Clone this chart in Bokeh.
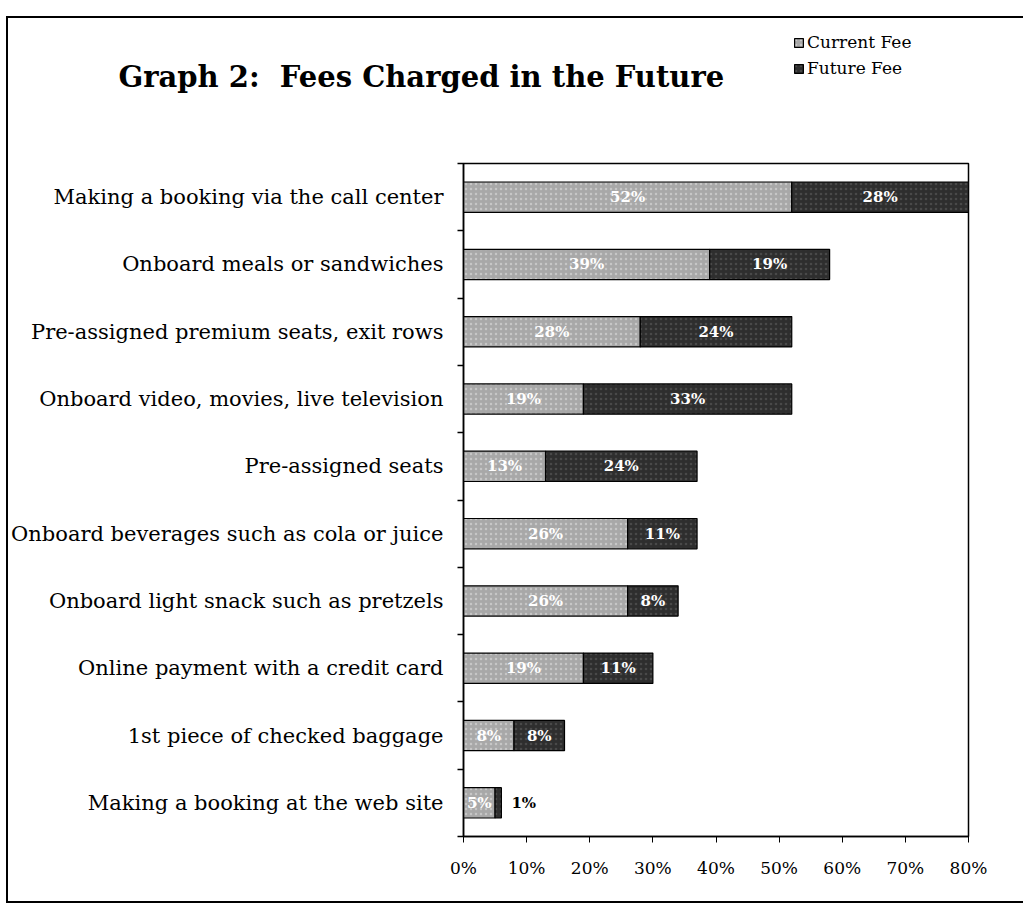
from bokeh.plotting import figure
from bokeh.models import (ColumnDataSource, Range1d, FixedTicker, NumeralTickFormatter,
                          LabelSet, Label, Legend, LegendItem)
from bokeh.core.properties import value
from bokeh.embed import file_html
from bokeh.resources import INLINE

categories = [
    "Making a booking via the call center",
    "Onboard meals or sandwiches",
    "Pre-assigned premium seats, exit rows",
    "Onboard video, movies, live television",
    "Pre-assigned seats",
    "Onboard beverages such as cola or juice",
    "Onboard light snack such as pretzels",
    "Online payment with a credit card",
    "1st piece of checked baggage",
    "Making a booking at the web site",
]
current_fee = [52, 39, 28, 19, 13, 26, 26, 19, 8, 5]
future_fee = [28, 19, 24, 33, 24, 11, 8, 11, 8, 1]
x_ticks = [0, 10, 20, 30, 40, 50, 60, 70, 80]
title_text = "Graph 2:\u00a0 Fees Charged in the Future"
series_names = ["Current Fee", "Future Fee"]

FONT = "DejaVu Serif"
LIGHT = "#a8a8a8"
DARK = "#2e2e2e"
LIGHT_STYLE = dict(fill_color=LIGHT, line_color="black", line_width=1.2,
                   hatch_pattern="dot", hatch_color="white", hatch_alpha=0.35, hatch_scale=5)
DARK_STYLE = dict(fill_color=DARK, line_color="black", line_width=1.2,
                  hatch_pattern="dot", hatch_color="#888888", hatch_alpha=0.3, hatch_scale=5)

n = len(categories)
ypos = [i + 0.5 for i in range(n)]
total = [c + f for c, f in zip(current_fee, future_fee)]
cur_mid = [c / 2 for c in current_fee]
fut_mid = [c + f / 2 for c, f in zip(current_fee, future_fee)]
inside = [f >= 3 for f in future_fee]

src = ColumnDataSource(dict(
    y=ypos, cur=current_fee, fut=future_fee, total=total,
    cur_mid=cur_mid, fut_mid=fut_mid,
    cur_lab=[f"{v}%" for v in current_fee],
    fut_lab=[f"{v}%" if ok else "" for v, ok in zip(future_fee, inside)],
))
out_src = ColumnDataSource(dict(
    y=[y for y, ok in zip(ypos, inside) if not ok],
    x=[t for t, ok in zip(total, inside) if not ok],
    lab=[f"{f}%" for f, ok in zip(future_fee, inside) if not ok],
))

W = 1017
H_HEAD = 140
H_MAIN = 747

# ---------- header: title + legend (separate root, so no frame alignment) ----------
head = figure(width=W, height=H_HEAD, output_backend="svg", toolbar_location=None,
              x_range=Range1d(0, W), y_range=Range1d(H_HEAD, 0),
              x_axis_location=None, y_axis_location=None, min_border=0)
head.grid.visible = False
head.outline_line_color = None
head.border_fill_color = "white"
# legend-source renderers over the same series, mapped to a range outside the view
head.extra_y_ranges = {"off": Range1d(100, 200)}
h1 = head.hbar(y="y", left=0, right="cur", height=0.45, source=src,
               y_range_name="off", **LIGHT_STYLE)
h2 = head.hbar(y="y", left="cur", right="total", height=0.45, source=src,
               y_range_name="off", **DARK_STYLE)
head.add_layout(Label(x=110, y=58, text=title_text, text_font=FONT,
                      text_font_style="bold", text_font_size="29px",
                      text_baseline="middle", text_align="left", text_color="black"))
legend = Legend(items=[LegendItem(label=series_names[0], renderers=[h1]),
                       LegendItem(label=series_names[1], renderers=[h2])],
                location=(785, 80), orientation="vertical",
                label_text_font=FONT, label_text_font_size="17px", label_text_color="black",
                glyph_width=11, glyph_height=11, label_standoff=3, spacing=6,
                padding=2, margin=0, border_line_color=None, background_fill_alpha=0)
head.add_layout(legend, "center")
head.styles = {"margin-top": "16px", "margin-left": "6px",
               "border-left": "2px solid black", "border-top": "2px solid black"}

# ---------- main chart ----------
p = figure(width=W, height=H_MAIN, output_backend="svg", toolbar_location=None,
           x_range=Range1d(0, 80), y_range=Range1d(n, 0),
           min_border_left=455, min_border_right=W - 960, min_border_top=7,
           min_border_bottom=67)
p.grid.visible = False
p.outline_line_color = "black"
p.outline_line_width = 1.5
p.background_fill_color = "white"
p.border_fill_color = "white"
p.styles = {"margin-left": "6px",
            "border-left": "2px solid black", "border-bottom": "2px solid black"}

p.hbar(y="y", left=0, right="cur", height=0.45, source=src, **LIGHT_STYLE)
p.hbar(y="y", left="cur", right="total", height=0.45, source=src, **DARK_STYLE)

p.add_layout(LabelSet(x="cur_mid", y="y", text="cur_lab", source=src,
                      text_color="white", text_font=value(FONT), text_font_style="bold",
                      text_font_size="15px", text_align="center", text_baseline="middle"))
p.add_layout(LabelSet(x="fut_mid", y="y", text="fut_lab", source=src,
                      text_color="white", text_font=value(FONT), text_font_style="bold",
                      text_font_size="15px", text_align="center", text_baseline="middle"))
p.add_layout(LabelSet(x="x", y="y", text="lab", source=out_src, x_offset=10,
                      text_color="black", text_font=value(FONT), text_font_style="bold",
                      text_font_size="15px", text_align="left", text_baseline="middle"))

# x axis
xa = p.xaxis[0]
xa.ticker = FixedTicker(ticks=x_ticks)
xa.formatter = NumeralTickFormatter(format="0%")
xa.major_label_overrides = {t: f"{t}%" for t in x_ticks}
xa.major_label_text_font = FONT
xa.major_label_text_font_size = "17px"
xa.major_label_text_color = "black"
xa.major_label_standoff = 15
xa.major_tick_out = 6
xa.major_tick_in = 0
xa.minor_tick_line_color = None
xa.axis_line_width = 1.5
xa.axis_line_color = "black"

# y axis: labels at category centres, ticks at category boundaries
ya = p.yaxis[0]
ya.ticker = FixedTicker(ticks=ypos, minor_ticks=list(range(n + 1)))
ya.major_label_overrides = {y: c for y, c in zip(ypos, categories)}
ya.major_label_text_font = FONT
ya.major_label_text_font_size = "21px"
ya.major_label_text_color = "black"
ya.major_label_standoff = 14
ya.major_tick_line_color = None
ya.minor_tick_out = 6
ya.minor_tick_in = 0
ya.minor_tick_line_color = "black"
ya.minor_tick_line_width = 1.5
ya.axis_line_width = 1.5
ya.axis_line_color = "black"

open("out.html", "w").write(file_html([head, p], INLINE))
